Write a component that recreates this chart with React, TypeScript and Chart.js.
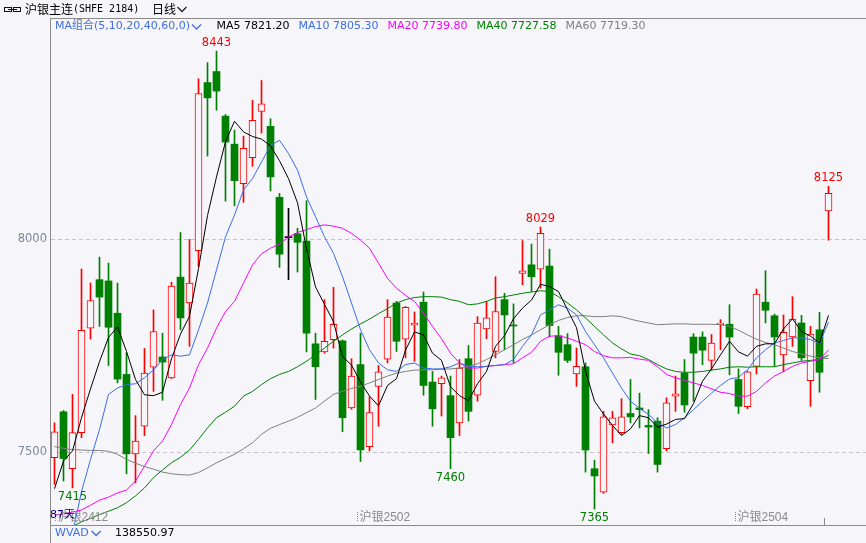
import { useEffect, useRef } from 'react';
import { Chart, registerables } from 'chart.js';

Chart.register(...registerables);

// ---------- data ----------
const opens = [7486,7594,7460,7545,7791,7905,7902,7826,7682,7495, 7560,7699,7723,7674,7911,7850,7973,8369,8395,8290, 8224,8131,8192,8301,8266,8099,8004,8013,7996,7754, 7735,7764,7761,7603,7705,7512,7654,7718,7850,7765, 7798,7852,7664,7660,7632,7568,7719,7633,7789,7736, 7858,7798,7920,7940,7930,7937,7773,7752,7683,7700, 7460,7405,7563,7545,7590,7603,7562,7572,7507,7631, 7685,7770,7770,7715,7799,7800,7670,7606,7701,7852, 7820,7728,7770,7803,7667,7787,8067];
const highs = [7568,7597,7635,7930,7897,7958,7944,7897,7733,7585, 7743,7834,7779,7899,8016,8000,8378,8416,8443,8294, 8257,8243,8327,8374,8284,8108,8073,8026,8091,7779, 7858,7887,7763,7719,7779,7629,7703,7858,7854,7842, 7829,7876,7689,7678,7678,7717,7750,7818,7854,7912, 7873,7848,7997,7989,8029,7977,7795,7778,7744,7709, 7480,7595,7595,7625,7670,7638,7599,7580,7627,7678, 7717,7778,7782,7776,7811,7846,7695,7690,7883,7926, 7824,7822,7865,7821,7795,7828,8125];
const lows = [7423,7431,7415,7533,7765,7795,7703,7662,7448,7427, 7538,7642,7621,7672,7787,7748,7936,8196,8304,8090, 8079,8087,8172,8250,8114,7934,7905,7923,7735,7623, 7732,7744,7547,7600,7477,7502,7560,7709,7736,7721, 7713,7633,7560,7584,7460,7538,7572,7619,7766,7721, 7740,7709,7893,7877,7885,7770,7680,7710,7654,7452, 7365,7402,7521,7541,7568,7556,7496,7452,7502,7595, 7593,7619,7705,7693,7740,7681,7590,7601,7683,7803, 7701,7688,7748,7715,7607,7640,7998];
const closes = [7547,7484,7545,7786,7856,7864,7793,7671,7495,7525, 7685,7783,7711,7890,7815,7897,8343,8333,8349,8229, 8138,8214,8280,8319,8147,7965,8004,7993,7779,7700, 7760,7800,7580,7678,7504,7592,7688,7817,7760,7840, 7803,7656,7601,7674,7533,7697,7595,7803,7815,7830, 7822,7796,7926,7912,8014,7797,7734,7715,7701,7504, 7443,7582,7580,7582,7582,7599,7558,7470,7615,7636, 7610,7732,7739,7756,7803,7770,7607,7688,7871,7833, 7770,7781,7812,7721,7777,7687,8108];

const ma5 = [7413,7478,7502,7580,7648,7712,7769,7794,7736,7670, 7634,7632,7640,7719,7777,7819,7931,8056,8147,8230, 8278,8253,8242,8236,8220,8185,8143,8086,7978,7888, 7847,7806,7724,7704,7664,7631,7608,7656,7672,7739, 7782,7775,7732,7715,7653,7632,7620,7660,7689,7748, 7773,7813,7838,7857,7894,7889,7877,7834,7792,7690, 7619,7589,7562,7538,7554,7585,7580,7558,7565,7576, 7578,7613,7666,7695,7728,7760,7735,7725,7748,7754, 7754,7789,7813,7783,7772,7756,7821];
const ma10 = [7100,7205,7308,7406,7482,7552,7635,7650,7658,7660, 7674,7693,7717,7728,7725,7728,7787,7850,7928,8006, 8057,8116,8143,8182,8221,8233,8202,8163,8100,8053, 8006,7967,7912,7850,7787,7740,7709,7693,7689,7705, 7709,7697,7695,7695,7700,7709,7701,7700,7701,7703, 7705,7717,7748,7775,7822,7834,7846,7838,7822,7783, 7752,7721,7685,7650,7619,7602,7588,7568,7556,7564, 7580,7599,7619,7638,7656,7671,7675,7693,7721,7740, 7756,7762,7768,7768,7764,7755,7805];
const ma20 = [7351,7353,7358,7363,7374,7386,7393,7403,7410,7431, 7466,7502,7525,7564,7611,7650,7705,7744,7791,7830, 7854,7897,7940,7966,7979,7989,8005,8016,8023,8030, 8034,8031,8026,8014,7998,7979,7944,7908,7885,7868, 7854,7826,7795,7766,7732,7709,7697,7697,7701,7703, 7705,7707,7721,7734,7760,7772,7773,7768,7760,7752, 7736,7726,7721,7721,7722,7718,7715,7700,7682,7674, 7668,7662,7656,7648,7640,7637,7631,7631,7642,7662, 7678,7689,7701,7709,7713,7717,7740];
const ma40 = [7300,7312,7324,7335,7343,7352,7360,7368,7380,7396, 7415,7439,7457,7474,7487,7504,7529,7556,7580,7593, 7607,7631,7642,7658,7672,7682,7689,7700,7713,7728, 7744,7760,7775,7789,7801,7812,7825,7837,7850,7858, 7863,7865,7865,7864,7858,7854,7846,7848,7854,7862, 7865,7869,7873,7876,7879,7877,7865,7850,7834,7815, 7795,7775,7756,7742,7730,7726,7717,7705,7695,7689, 7687,7687,7689,7692,7695,7699,7700,7699,7700,7700, 7700,7705,7709,7713,7715,7717,7727];
const ma60 = [7512,7508,7505,7504,7503,7503,7501,7494,7482,7473, 7465,7459,7452,7448,7446,7445,7451,7462,7474,7484, 7494,7507,7521,7541,7555,7564,7572,7581,7592,7603, 7619,7635,7642,7649,7654,7662,7670,7678,7685,7689, 7692,7693,7693,7694,7695,7697,7701,7707,7717,7728, 7740,7752,7764,7775,7787,7799,7809,7816,7820,7820, 7818,7818,7820,7818,7812,7807,7803,7799,7800,7801, 7801,7800,7800,7800,7799,7795,7786,7775,7765,7757, 7752,7744,7736,7730,7725,7721,7719];

const maNames = ['MA5', 'MA10', 'MA20', 'MA40', 'MA60'];
const maLastValues = ['7821.20', '7805.30', '7739.80', '7727.58', '7719.30'];
const yTicks = [7500, 8000];
const contractLabels = ['沪银2412', '沪银2502', '沪银2504'];
const contractStartIdx = [0, 34, 76];
const unlabeledMarkIdx = [86];
const highMarkIdx = [18, 54, 86];
const lowMarkIdx = [2, 44, 60];
const titleName = '沪银主连';
const titleCode = '(SHFE 2184)';
const periodLabel = '日线';
const maGroupLabel = 'MA组合(5,10,20,40,60,0)';
const indicatorName = 'WVAD';
const indicatorValue = '138550.97';

// ---------- styles ----------
const W = 866;
const H = 543;
const BG = '#f5f5fa';
const UP = '#ff0000';
const DOWN = '#008000';
const FLAT = '#000000';
const BLUE_TXT = '#3f6fe0';
const MA_COLORS = ['#000000', '#3a6ee8', '#ff00ff', '#008000', '#808080'];
const UI = "'DejaVu Sans', 'Noto Sans CJK SC', sans-serif";
const CJK = "'Noto Sans CJK SC', sans-serif";

const candleColors = opens.map((o, i) => (closes[i] > o ? UP : closes[i] < o ? DOWN : FLAT));

function chevron(ctx: any, x: number, y: number, color: string) {
  ctx.strokeStyle = color;
  ctx.lineWidth = 1.3;
  ctx.beginPath();
  ctx.moveTo(x, y);
  ctx.lineTo(x + 4.5, y + 4.5);
  ctx.lineTo(x + 9, y);
  ctx.stroke();
}

const decor = {
  id: 'decor',
  beforeDraw(chart: any) {
    const { ctx, width, height } = chart;
    ctx.save();
    ctx.fillStyle = BG;
    ctx.fillRect(0, 0, width, height);
    ctx.restore();
  },
  beforeDatasetsDraw(chart: any) {
    const { ctx, chartArea, width } = chart;
    const y = chart.scales.y;
    ctx.save();
    ctx.strokeStyle = '#c4c4ca';
    ctx.lineWidth = 1;
    ctx.setLineDash([4, 3]);
    yTicks.forEach((t) => {
      const py = Math.round(y.getPixelForValue(t)) + 0.5;
      ctx.beginPath();
      ctx.moveTo(chartArea.left + 1, py);
      ctx.lineTo(width, py);
      ctx.stroke();
    });
    ctx.restore();
  },
  afterDraw(chart: any) {
    const { ctx, chartArea, width, height } = chart;
    const x = chart.scales.x;
    const y = chart.scales.y;
    ctx.save();

    // frame
    ctx.strokeStyle = '#8a8a8a';
    ctx.lineWidth = 1;
    ctx.beginPath();
    ctx.moveTo(chartArea.left + 0.5, chartArea.top);
    ctx.lineTo(chartArea.left + 0.5, height);
    ctx.moveTo(chartArea.left, chartArea.top + 0.5);
    ctx.lineTo(width, chartArea.top + 0.5);
    ctx.moveTo(chartArea.left, chartArea.bottom + 0.5);
    ctx.lineTo(width, chartArea.bottom + 0.5);
    ctx.stroke();

    // y tick labels
    ctx.font = `11.5px ${UI}`;
    ctx.fillStyle = '#7d8799';
    ctx.textAlign = 'right';
    ctx.textBaseline = 'middle';
    yTicks.forEach((t) => ctx.fillText(String(t), chartArea.left - 3, y.getPixelForValue(t)));

    // high / low marks
    ctx.textAlign = 'center';
    ctx.fillStyle = UP;
    highMarkIdx.forEach((i) => ctx.fillText(String(highs[i]), x.getPixelForValue(i), y.getPixelForValue(highs[i]) - 8));
    ctx.fillStyle = DOWN;
    lowMarkIdx.forEach((i) => ctx.fillText(String(lows[i]), x.getPixelForValue(i), y.getPixelForValue(lows[i]) + 9));

    // contract labels on the time axis
    ctx.textAlign = 'left';
    ctx.font = `12px 'Liberation Sans', ${CJK}`;
    contractLabels.forEach((lab, k) => {
      const bx = x.getPixelForValue(contractStartIdx[k]) - 4.5;
      const tx = Math.max(Math.round(bx + 1), chartArea.left + 5) + 0.5;
      ctx.fillStyle = '#8a8a8a';
      for (let yy = 512; yy < 522; yy += 2) ctx.fillRect(tx - 0.5, yy, 1, 1);
      ctx.fillStyle = '#8a8a8a';
      ctx.fillText(lab, tx + 2, 518);
    });
    unlabeledMarkIdx.forEach((i) => {
      const bx = Math.round(x.getPixelForValue(i) - 4.5) + 0.5;
      ctx.strokeStyle = '#8a8a8a';
      ctx.beginPath();
      ctx.moveTo(bx, 518);
      ctx.lineTo(bx, chartArea.bottom);
      ctx.stroke();
    });
    ctx.font = `11px ${UI}`;
    ctx.fillStyle = '#000080';
    ctx.fillText(closes.length + '天', chartArea.left, 515);

    // title row
    ctx.strokeStyle = '#111';
    ctx.lineWidth = 1;
    ctx.strokeRect(4.5, 7.5, 7, 4);
    ctx.strokeRect(13.5, 7.5, 7, 4);
    ctx.beginPath();
    ctx.moveTo(8, 9.5);
    ctx.lineTo(17, 9.5);
    ctx.stroke();
    ctx.fillStyle = '#000';
    ctx.font = `12px ${CJK}`;
    ctx.fillText(titleName, 25, 9.5);
    const tw = ctx.measureText(titleName).width;
    ctx.font = "10px 'DejaVu Sans Mono', monospace";
    ctx.fillText(titleCode, 25 + tw, 9.5);
    ctx.font = `12px ${CJK}`;
    ctx.fillText(periodLabel, 152, 9.5);
    chevron(ctx, 177.5, 7, '#222');

    // MA legend row
    ctx.font = `11px ${UI}`;
    ctx.fillStyle = BLUE_TXT;
    ctx.fillText(maGroupLabel, 55, 26.5);
    const gw = ctx.measureText(maGroupLabel).width;
    chevron(ctx, 55 + gw + 2, 24.5, BLUE_TXT);
    let lx = 216.5;
    maNames.forEach((n, k) => {
      const s = `${n} ${maLastValues[k]}`;
      ctx.fillStyle = MA_COLORS[k];
      ctx.fillText(s, lx, 26.5);
      lx += ctx.measureText(s).width + 9;
    });

    // indicator row
    ctx.fillStyle = BLUE_TXT;
    ctx.fillText(indicatorName, 55, 533.5);
    const iw = ctx.measureText(indicatorName).width;
    chevron(ctx, 55 + iw + 3, 531, BLUE_TXT);
    ctx.fillStyle = '#000';
    ctx.fillText(indicatorValue, 115, 533.5);

    ctx.restore();
  },
};

export default function App() {
  const ref = useRef<HTMLCanvasElement>(null);
  useEffect(() => {
    const canvas = ref.current;
    if (!canvas) return;
    const labels = closes.map((_, i) => String(i + 1));
    const lineSets = [ma5, ma10, ma20, ma40, ma60].map((d, k) => ({
      type: 'line' as const,
      label: maNames[k],
      data: d,
      borderColor: MA_COLORS[k],
      backgroundColor: MA_COLORS[k],
      borderWidth: 1,
      pointRadius: 0,
      tension: 0,
      fill: false,
      order: k,
    }));
    const chart = new Chart(canvas, {
      type: 'bar',
      data: {
        labels,
        datasets: [
          ...lineSets,
          {
            type: 'bar',
            label: 'body',
            data: opens.map((o, i) => [o, closes[i]]),
            backgroundColor: candleColors.map((c) => (c === UP ? BG : c)),
            borderColor: candleColors,
            borderWidth: candleColors.map((c) => (c === UP ? 1 : 0)),
            borderSkipped: false,
            barThickness: 7,
            minBarLength: 1,
            grouped: false,
            order: 10,
          },
          {
            type: 'bar',
            label: 'wick',
            data: lows.map((l, i) => [l, highs[i]]),
            backgroundColor: candleColors,
            borderWidth: 0,
            barThickness: 1,
            grouped: false,
            order: 11,
          },
        ] as any,
      },
      options: {
        responsive: false,
        animation: false,
        devicePixelRatio: 1,
        events: [],
        layout: { padding: { left: 50, right: 33, top: 18, bottom: 18 } },
        plugins: { legend: { display: false }, tooltip: { enabled: false } },
        scales: {
          x: { type: 'category', display: false, offset: true, grid: { display: false } },
          y: { type: 'linear', display: false, min: 7327.5, max: 8521 },
        },
      },
      plugins: [decor],
    });
    return () => chart.destroy();
  }, []);
  return (
    <div style={{ position: 'absolute', left: 0, top: 0, width: W, height: H, background: BG }}>
      <canvas ref={ref} width={W} height={H} style={{ display: 'block', width: W, height: H }} />
    </div>
  );
}
